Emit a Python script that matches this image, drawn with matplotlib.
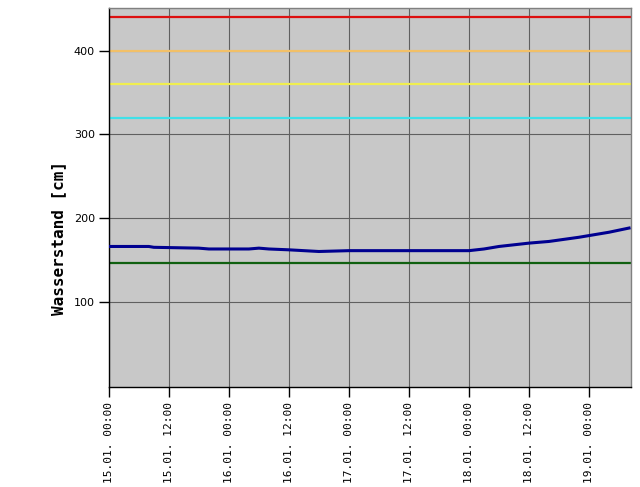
import pandas as pd
import matplotlib
matplotlib.use('Agg')
import matplotlib.pyplot as plt
import matplotlib.dates as mdates

# water level readings (hours after 15.01. 00:00, cm)
hours = [0, 8, 9, 18, 20, 28, 30, 32, 36, 42, 48, 60, 72, 75, 78, 84, 88, 94, 100, 104]
level = [166, 166, 165, 164, 163, 163, 164, 163, 162, 160, 161, 161, 161, 163, 166, 170, 172, 177, 183, 188]

# alarm / reference levels
ref_levels = [440, 400, 360, 320, 146]
ref_colors = ['#dd1010', '#f2c068', '#f0ee50', '#40e0e8', '#106010']

start = pd.Timestamp('2021-01-15 00:00')
times = [start + pd.Timedelta(hours=h) for h in hours]
x_end = start + pd.Timedelta(hours=104.4)
tick_times = [start + pd.Timedelta(hours=12 * i) for i in range(9)]

fig = plt.figure(figsize=(6.4, 4.87), dpi=100)
ax = fig.add_axes([0.170, 0.205, 0.816, 0.779])
ax.set_facecolor('#c8c8c8')

for val, col in zip(ref_levels, ref_colors):
    ax.axhline(val, color=col, lw=1.6, zorder=2)

ax.plot(times, level, color='#000090', lw=2.2, zorder=3)

ax.set_xlim(start, x_end)
ax.set_ylim(-2, 451)
ax.set_yticks([100, 200, 300, 400])
ax.set_xticks(tick_times)
ax.xaxis.set_major_formatter(mdates.DateFormatter('%d.%m. %H:%M'))
ax.grid(True, color='#606060', lw=0.8, zorder=1)
ax.set_axisbelow(True)

ax.tick_params(axis='y', direction='out', length=7, width=1, labelsize=8, pad=3)
ax.tick_params(axis='x', direction='out', length=7, width=1, pad=4)
for lab in ax.get_xticklabels():
    lab.set_rotation(90)
    lab.set_family('DejaVu Sans Mono')
    lab.set_fontsize(8)

for side in ['top', 'right']:
    ax.spines[side].set_color('#808080')
    ax.spines[side].set_linewidth(1)
for side in ['left', 'bottom']:
    ax.spines[side].set_color('black')
    ax.spines[side].set_linewidth(1)

ax.set_ylabel('Wasserstand [cm]', family='DejaVu Sans Mono', fontsize=11.5, fontweight='bold')
ax.yaxis.set_label_coords(-0.081, 0.393)

fig.savefig('out.png', dpi=100)
